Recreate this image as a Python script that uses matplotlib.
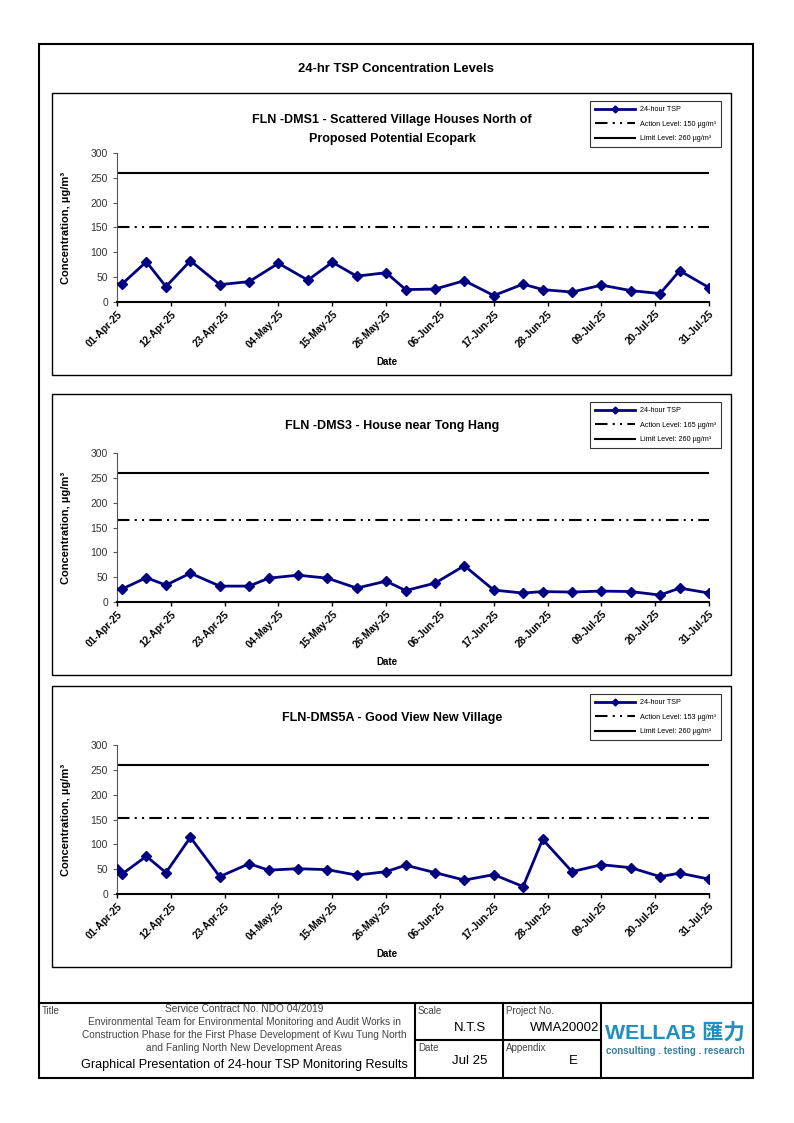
import datetime as dt
import matplotlib
matplotlib.use('Agg')
import matplotlib.pyplot as plt
import matplotlib.dates as mdates
from matplotlib.patches import Rectangle
from matplotlib.lines import Line2D

plt.rcParams['font.family'] = ['Liberation Sans', 'Noto Sans CJK SC', 'DejaVu Sans']

# ---- data ----
dms1_dates = ['2025-03-27', '2025-04-02', '2025-04-07', '2025-04-11', '2025-04-16', '2025-04-22',
              '2025-04-28', '2025-05-04', '2025-05-10', '2025-05-15', '2025-05-20', '2025-05-26',
              '2025-05-30', '2025-06-05', '2025-06-11', '2025-06-17', '2025-06-23', '2025-06-27',
              '2025-07-03', '2025-07-09', '2025-07-15', '2025-07-21', '2025-07-25', '2025-07-31']
dms1_tsp = [40, 36, 81, 31, 83, 35, 41, 78, 44, 80, 52, 59,
            25, 26, 43, 13, 36, 25, 20, 34, 23, 17, 63, 29]

dms3_dates = ['2025-03-27', '2025-04-02', '2025-04-07', '2025-04-11', '2025-04-16', '2025-04-22',
              '2025-04-28', '2025-05-02', '2025-05-08', '2025-05-14', '2025-05-20', '2025-05-26',
              '2025-05-30', '2025-06-05', '2025-06-11', '2025-06-17', '2025-06-23', '2025-06-27',
              '2025-07-03', '2025-07-09', '2025-07-15', '2025-07-21', '2025-07-25', '2025-07-31']
dms3_tsp = [27, 26, 49, 34, 58, 32, 32, 48, 54, 48, 28, 42,
            23, 38, 73, 24, 18, 21, 20, 22, 21, 14, 28, 18]

dms5a_dates = ['2025-04-01', '2025-04-02', '2025-04-07', '2025-04-11', '2025-04-16', '2025-04-22',
               '2025-04-28', '2025-05-02', '2025-05-08', '2025-05-14', '2025-05-20', '2025-05-26',
               '2025-05-30', '2025-06-05', '2025-06-11', '2025-06-17', '2025-06-23', '2025-06-27',
               '2025-07-03', '2025-07-09', '2025-07-15', '2025-07-21', '2025-07-25', '2025-07-31']
dms5a_tsp = [51, 40, 76, 43, 114, 35, 61, 48, 51, 49, 38, 45,
             58, 43, 28, 39, 15, 110, 45, 59, 53, 35, 42, 30]

panel_titles = ['FLN -DMS1 - Scattered Village Houses North of\nProposed Potential Ecopark',
                'FLN -DMS3 - House near Tong Hang',
                'FLN-DMS5A - Good View New Village']
action_levels = [150, 165, 153]
limit_level = 260

W, H = 794, 1123


def fx(x):
    return x / W


def fy(y):
    return 1 - y / H


def to_dates(strs):
    return [dt.datetime.strptime(s, '%Y-%m-%d') for s in strs]


fig = plt.figure(figsize=(W / 100, H / 100), dpi=100)

# outer frame and title
fig.patches.append(Rectangle((fx(39), fy(1078)), fx(753) - fx(39), fy(44) - fy(1078),
                             transform=fig.transFigure, fill=False, lw=1.5, ec='black'))
fig.text(fx(396), fy(69), '24-hr TSP Concentration Levels', ha='center', va='center',
         fontsize=9.4, fontweight='bold')

series = [(dms1_dates, dms1_tsp), (dms3_dates, dms3_tsp), (dms5a_dates, dms5a_tsp)]
box_tops = [93, 394, 686]
box_bottoms = [375, 675, 967]
ax_tops = [153, 453, 745]

x_start = dt.datetime(2025, 4, 1)
x_end = dt.datetime(2025, 7, 31)
tick_dates = [x_start + dt.timedelta(days=11 * i) for i in range(12)]

for i in range(3):
    top = box_tops[i]
    fig.patches.append(Rectangle((fx(52), fy(box_bottoms[i])), fx(731) - fx(52),
                                 fy(top) - fy(box_bottoms[i]),
                                 transform=fig.transFigure, fill=False, lw=1.0, ec='black'))
    at = ax_tops[i]
    ax = fig.add_axes([fx(117), fy(at + 149), fx(709) - fx(117), (149) / H])
    d, v = series[i]
    ax.plot(to_dates(d), v, color='#000080', lw=2, marker='D', ms=5.5,
            label='24-hour TSP', zorder=3)
    ax.axhline(action_levels[i], color='black', lw=1.5,
               linestyle=(0, (6, 2.5, 1, 2.5, 1, 2.5)),
               label='Action Level: %d \u00b5g/m\u00b3' % action_levels[i])
    ax.axhline(limit_level, color='black', lw=1.5,
               label='Limit Level: %d \u00b5g/m\u00b3' % limit_level)
    ax.set_xlim(x_start, x_end)
    ax.set_ylim(0, 300)
    ax.set_yticks(range(0, 301, 50))
    ax.set_xticks(tick_dates)
    ax.xaxis.set_major_formatter(mdates.DateFormatter('%d-%b-%y'))
    for lab in ax.get_xticklabels():
        lab.set_rotation(45)
        lab.set_ha('right')
        lab.set_rotation_mode('anchor')
        lab.set_fontweight('bold')
        lab.set_fontsize(7.2)
    ax.tick_params(axis='y', labelsize=7.5, labelcolor='#333333', length=3, width=0.8,
                   color='#555555')
    ax.tick_params(axis='x', length=3, width=1, pad=2)
    ax.spines['top'].set_visible(False)
    ax.spines['right'].set_visible(False)
    ax.spines['left'].set_color('#555555')
    ax.spines['bottom'].set_linewidth(1.5)
    ax.patch.set_alpha(0)

    # panel title
    if i == 0:
        fig.text(fx(392), fy(129.5), panel_titles[i], ha='center', va='center',
                 fontsize=9, fontweight='bold', linespacing=1.7)
    else:
        fig.text(fx(392), fy(top + 32), panel_titles[i], ha='center', va='center',
                 fontsize=9, fontweight='bold')
    fig.text(fx(387), fy(at + 209), 'Date', ha='center', va='center',
             fontsize=7, fontweight='bold')
    fig.text(fx(66), fy(at + 75), 'Concentration, \u00b5g/m\u00b3', ha='center', va='center',
             rotation=90, fontsize=8, fontweight='bold')

    leg = ax.legend(loc='upper left', bbox_to_anchor=(fx(590), fy(top + 8)),
                    bbox_transform=fig.transFigure, fontsize=5.2, frameon=True,
                    fancybox=False, edgecolor='black', handlelength=5.5,
                    borderpad=0.7, labelspacing=1.05, handletextpad=0.7,
                    borderaxespad=0)
    leg.get_frame().set_linewidth(0.8)
    for h in leg.legend_handles:
        h.set_markersize(3.5)

# ---- footer block ----
def hline(x0, x1, y, lw=1.5):
    fig.add_artist(Line2D([fx(x0), fx(x1)], [fy(y), fy(y)], color='black', lw=lw,
                          transform=fig.transFigure))


def vline(x, y0, y1, lw=1.5):
    fig.add_artist(Line2D([fx(x), fx(x)], [fy(y0), fy(y1)], color='black', lw=lw,
                          transform=fig.transFigure))


hline(39, 753, 1003)
hline(415, 601, 1040)
vline(415, 1003, 1078)
vline(503, 1003, 1078)
vline(601, 1003, 1078)

grey = '#444444'
fig.text(fx(42), fy(1011), 'Title', fontsize=7, color=grey, va='center')
footer_lines = ['Service Contract No. NDO 04/2019',
                'Environmental Team for Environmental Monitoring and Audit Works in',
                'Construction Phase for the First Phase Development of Kwu Tung North',
                'and Fanling North New Development Areas']
for k, t in enumerate(footer_lines):
    fig.text(fx(244), fy(1009 + 13 * k), t, fontsize=7.3, color=grey, ha='center', va='center')
fig.text(fx(244), fy(1065), 'Graphical Presentation of 24-hour TSP Monitoring Results',
         fontsize=9.1, ha='center', va='center')

fig.text(fx(418), fy(1011), 'Scale', fontsize=7, color=grey, va='center')
fig.text(fx(470), fy(1028), 'N.T.S', fontsize=9.5, ha='center', va='center')
fig.text(fx(418), fy(1048), 'Date', fontsize=7, color=grey, va='center')
fig.text(fx(470), fy(1061), 'Jul 25', fontsize=9.5, ha='center', va='center')
fig.text(fx(506), fy(1011), 'Project No.', fontsize=7, color=grey, va='center')
fig.text(fx(599), fy(1028), 'WMA20002', fontsize=9.5, ha='right', va='center')
fig.text(fx(506), fy(1048), 'Appendix', fontsize=7, color=grey, va='center')
fig.text(fx(573), fy(1061), 'E', fontsize=9.5, ha='center', va='center')

fig.text(fx(675), fy(1033), 'WELLAB 匯力', fontsize=15.4, fontweight='bold',
         color='#1f8fbf', ha='center', va='center')
fig.text(fx(675), fy(1051), 'consulting . testing . research', fontsize=7,
         fontweight='bold', color='#3a7f99', ha='center', va='center')

fig.savefig('out.png', dpi=100)
